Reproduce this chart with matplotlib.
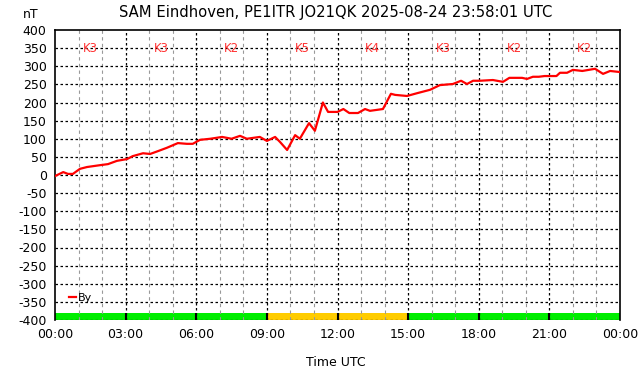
import matplotlib
matplotlib.use("Agg")
import matplotlib.pyplot as plt

# By component, hours UTC vs nT
hours = [0.0, 0.35, 0.55, 0.76, 1.06, 1.36, 1.9, 2.25, 2.63, 3.06, 3.3, 3.74, 4.04,
         4.38, 4.75, 5.22, 5.6, 5.85, 6.16, 6.6, 7.1, 7.5, 7.86, 8.15, 8.7, 9.0,
         9.35, 9.56, 9.86, 10.2, 10.4, 10.79, 11.04, 11.38, 11.6, 12.0, 12.25, 12.5,
         12.87, 13.17, 13.38, 13.93, 14.27, 14.45, 14.95, 15.4, 15.93, 16.35, 16.9,
         17.25, 17.5, 17.76, 18.05, 18.6, 19.03, 19.3, 19.84, 20.05, 20.3, 20.55,
         20.8, 21.3, 21.45, 21.75, 22.0, 22.4, 22.94, 23.28, 23.58, 24.0]
by_nt = [-3, 8, 3, 3, 17, 22, 27, 30, 39, 44, 52, 60, 58,
         66, 75, 88, 86, 86, 97, 100, 105, 100, 108, 100, 105, 94,
         105, 91, 69, 110, 100, 143, 122, 200, 174, 174, 182, 171,
         171, 182, 177, 182, 224, 221, 218, 226, 235, 248, 251,
         260, 251, 260, 260, 262, 257, 268, 268, 265, 271, 271,
         273, 273, 282, 282, 290, 287, 293, 279, 287, 284]

# K index per 3 hour block
k_start = [0, 3, 6, 9, 12, 15, 18, 21]
k_index = [3, 3, 2, 5, 4, 3, 2, 2]
k_colors = ['#00ee00', '#00ee00', '#00ee00', '#ffcc00', '#ffcc00',
            '#00ee00', '#00ee00', '#00ee00']

xticks = list(range(0, 25, 3))
xticklabels = ['00:00', '03:00', '06:00', '09:00', '12:00', '15:00',
               '18:00', '21:00', '00:00']
yticks = list(range(-400, 401, 50))

fig = plt.figure(figsize=(6.42, 3.76), dpi=100)
ax = fig.add_axes([55/642, 56/376, 565/642, 290/376])

# K index bars
ax.bar([s + 1.5 for s in k_start], [19] * len(k_start), width=3, bottom=-400,
       color=k_colors, zorder=1)
ax.vlines(k_start[1:], -400, -381, color='black', linewidth=1.5, zorder=2)

# hour grid (grey) and 3-hour grid (black), drawn over the K bars
for h in range(1, 24):
    if h % 3:
        ax.axvline(h, color='#999999', linestyle=(0, (3, 3)), linewidth=0.8, zorder=2)
for h in range(3, 24, 3):
    ax.axvline(h, color='black', linestyle=(0, (2, 2)), linewidth=0.9, zorder=2)
for v in yticks[:-1]:
    ax.axhline(v, color='black', linestyle=(0, (2, 2)), linewidth=0.9, zorder=2)

for s, k in zip(k_start, k_index):
    ax.text(s + 1.5, 348, 'K%d' % k, color='#ff3333', fontsize=8.5,
            ha='center', va='center', zorder=3)

ax.plot(hours, by_nt, color='red', linewidth=1.6, label='By', zorder=4)

ax.set_xlim(0, 24)
ax.set_ylim(-400, 400)
ax.set_xticks(xticks)
ax.set_xticklabels(xticklabels, fontsize=9)
ax.set_yticks(yticks)
ax.set_yticklabels(yticks, fontsize=9)
ax.tick_params(length=0, pad=6)
for sp in ax.spines.values():
    sp.set_linewidth(1.2)
ax.spines['bottom'].set_visible(False)

ax.legend(loc=(0.017, 0.045), frameon=False, fontsize=8, handlelength=0.6,
          handletextpad=0.15, borderaxespad=0)

fig.text(336/642, 1 - 12/376, 'SAM Eindhoven, PE1ITR JO21QK 2025-08-24 23:58:01 UTC',
         ha='center', va='center', fontsize=10.6)
fig.text(31/642, 1 - 15/376, 'nT', ha='center', va='center', fontsize=9)
fig.text(336/642, 1 - 362/376, 'Time UTC', ha='center', va='center', fontsize=9)

fig.savefig('out.png', dpi=100)
